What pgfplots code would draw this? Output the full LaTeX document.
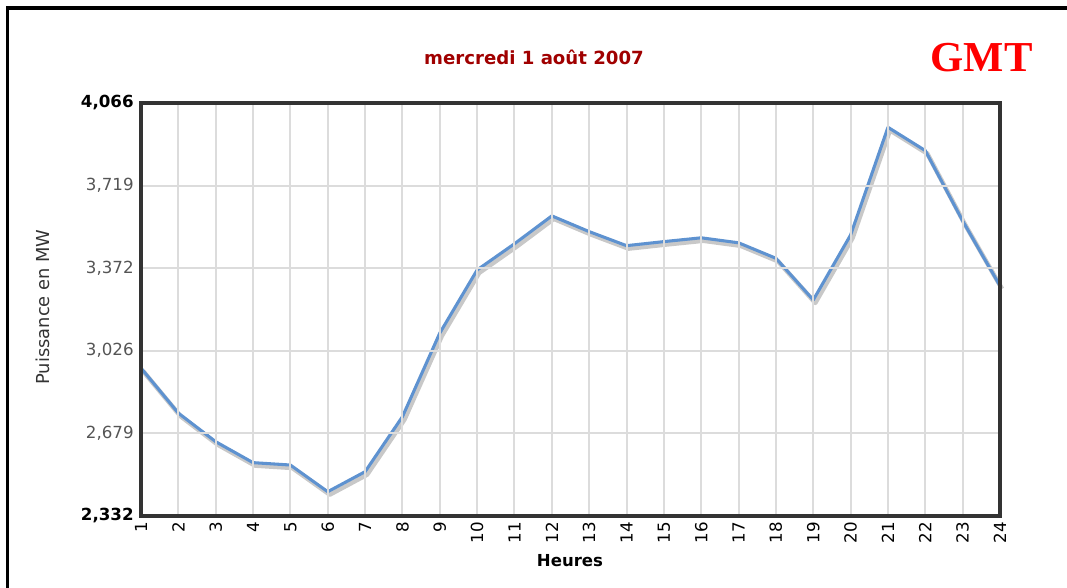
\documentclass[border=0pt]{standalone}
\usepackage{fontspec}
\setmainfont{DejaVu Sans}
\newfontfamily\gmtfont{Liberation Serif}
\usepackage{pgfplots}
\pgfplotsset{compat=1.18}

\definecolor{linieblue}{HTML}{5E92D0}
\definecolor{shadowgray}{HTML}{C8C8C8}
\definecolor{gridgray}{HTML}{DCDCDC}
\definecolor{framegray}{HTML}{333333}
\definecolor{tickgray}{HTML}{555555}
\definecolor{titlered}{HTML}{A00000}

\pgfplotstableread{
h  mw
1  2953
2  2764
3  2644
4  2556
5  2546
6  2434
7  2518
8  2749
9  3100
10 3365
11 3475
12 3592
13 3526
14 3467
15 3484
16 3500
17 3479
18 3414
19 3239
20 3512
21 3964
22 3866
23 3571
24 3298
}\puissance

\begin{document}
\begin{tikzpicture}
\begin{axis}[
  at={(0,0)}, anchor=south west,
  scale only axis, width=644.25pt, height=309.75pt,
  xmin=1, xmax=24, ymin=2332, ymax=4066,
  xtick={1,...,24},
  ytick={2332,2679,3026,3372,3719,4066},
  yticklabels={{\textcolor{black}{\bfseries 2,332}},{2,679},{3,026},{3,372},{3,719},{\textcolor{black}{\bfseries 4,066}}},
  /pgf/number format/assume math mode=true,
  tick style={draw=none},
  grid=major,
  major grid style={draw=gridgray, line width=1.5pt},
  axis line style={draw=framegray, line width=2.4pt},
  axis on top,
  ticklabel style={font=\fontsize{12.5}{14}\selectfont},
  yticklabel style={text=tickgray, xshift=-2pt},
  xticklabel style={rotate=90, anchor=east, text=black, xshift=-1pt},
  clip=false,
]
\addplot[draw=shadowgray, line width=3.4pt, shift={(1.5pt,-2.2pt)}, line join=round] table[x=h, y=mw] {\puissance};
\addplot[draw=linieblue, line width=2.3pt, line join=round] table[x=h, y=mw] {\puissance};
\end{axis}

% outer frame (clipped at the right and bottom)
\draw[black, line width=2.3pt] (-100.1pt,-60pt) -- (-100.1pt,381pt) -- (700pt,381pt);

\node[anchor=base, text=titlered, font=\fontsize{13.6}{16}\selectfont\bfseries] at (294.75pt,338.25pt) {mercredi 1 août 2007};
\node[anchor=base, text=red, font=\fontsize{32}{36}\selectfont\gmtfont\bfseries] at (630.4pt,333pt) {GMT};
\node[anchor=base, font=\fontsize{12.4}{15}\selectfont\bfseries] at (321.75pt,-38.25pt) {Heures};
\node[anchor=base, rotate=90, text=framegray, font=\fontsize{13.4}{15}\selectfont] at (-68.25pt,156.75pt) {Puissance en MW};

\pgfresetboundingbox
\path[use as bounding box] (-105.75pt,-54pt) rectangle (694.5pt,387pt);
\end{tikzpicture}
\end{document}
